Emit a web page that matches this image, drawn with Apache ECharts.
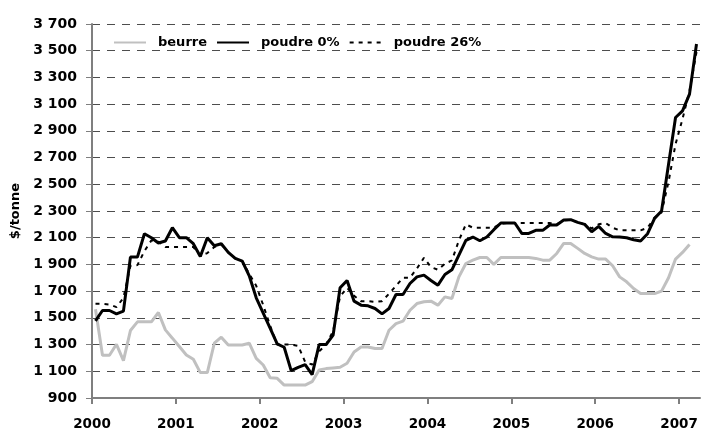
<!DOCTYPE html>
<html>
<head>
<meta charset="utf-8">
<script src="https://cdn.jsdelivr.net/npm/echarts@6/dist/echarts.min.js"></script>
<style>
  html, body { margin: 0; padding: 0; background: #fff; }
  #main { width: 703px; height: 431px; }
</style>
</head>
<body>
<div id="main"></div>
<script>
// monthly prices, $/tonne, from Jan 2000
var years = ["2000", "2001", "2002", "2003", "2004", "2005", "2006", "2007"];

var beurre = [
  1565, 1220, 1220, 1302, 1180, 1405, 1470, 1470, 1470, 1540, 1410, 1348,
  1285, 1222, 1190, 1090, 1090, 1310, 1355, 1297, 1297, 1297, 1310, 1197,
  1147, 1052, 1047, 997, 997, 997, 997, 1022, 1110, 1120, 1125, 1130,
  1160, 1245, 1282, 1282, 1270, 1270, 1407, 1457, 1475, 1557, 1607, 1620,
  1625, 1595, 1657, 1645, 1807, 1907, 1932, 1952, 1952, 1900, 1952, 1952,
  1952, 1952, 1952, 1945, 1932, 1932, 1982, 2057, 2057, 2020, 1982, 1957,
  1940, 1940, 1890, 1807, 1770, 1720, 1682, 1682, 1682, 1700, 1800, 1940,
  1990, 2050
];

var poudre0 = [
  1478, 1555, 1555, 1530, 1550, 1955, 1955, 2130, 2100, 2060, 2075, 2175,
  2100, 2100, 2055, 1960, 2100, 2040, 2055, 1990, 1945, 1925, 1815, 1650,
  1535, 1422, 1305, 1280, 1105, 1130, 1150, 1075, 1300, 1300, 1370, 1725,
  1780, 1625, 1595, 1590, 1570, 1530, 1570, 1675, 1675, 1757, 1807, 1820,
  1780, 1745, 1825, 1860, 1970, 2080, 2105, 2077, 2105, 2160, 2210, 2210,
  2210, 2132, 2132, 2155, 2155, 2195, 2195, 2232, 2235, 2215, 2200, 2145,
  2185, 2132, 2107, 2105, 2100, 2085, 2075, 2130, 2245, 2300, 2650, 3000,
  3050, 3175, 3550
];

var poudre26 = [
  1605, 1605, 1600, 1580, 1650, 1890, 1895, 2000, 2080, 2070, 2030, 2030,
  2030, 2030, 2030, 1965, 1985, 2030, 2050, 1990, 1945, 1925, 1830, 1740,
  1595, 1440, 1300, 1300, 1300, 1290, 1170, 1150, 1250, 1300, 1400, 1660,
  1725, 1665, 1625, 1625, 1620, 1625, 1680, 1740, 1800, 1800, 1870, 1950,
  1880, 1860, 1905, 1930, 2080, 2200, 2175, 2175, 2175, 2175, 2205, 2210,
  2210, 2210, 2210, 2210, 2210, 2210, 2200, 2230, 2235, 2215, 2200, 2170,
  2200, 2210, 2175, 2155, 2155, 2155, 2155, 2175, 2250, 2290, 2520, 2800,
  2990, 3200, 3490
];

// each value is plotted in the middle of its month
function byMonth(arr) {
  return arr.map(function (v, i) { return [i + 0.5, v]; });
}

var yearTicks = years.map(function (y, i) { return i * 12; });
var boldFont = { fontFamily: "DejaVu Sans", fontWeight: "bold", color: "#000" };

var chart = echarts.init(document.getElementById("main"));

var option = {
  animation: false,
  backgroundColor: "#fff",
  grid: { left: 92, right: 3, top: 24, bottom: 31 },
  legend: {
    left: 113,
    top: 36,
    padding: 0,
    itemWidth: 32,
    itemHeight: 14,
    itemGap: 9,
    itemStyle: { opacity: 0 },
    textStyle: Object.assign({ fontSize: 13, padding: [0, 0, 0, 7] }, boldFont),
    data: ["beurre", "poudre 0%", "poudre 26%"]
  },
  xAxis: {
    type: "value",
    min: 0,
    max: 87,
    interval: 12,
    axisLine: { lineStyle: { color: "#7f7f7f", width: 2 } },
    axisTick: { show: true, length: 6, customValues: yearTicks, lineStyle: { color: "#7f7f7f", width: 2 } },
    axisLabel: Object.assign({
      fontSize: 13.5,
      margin: 19,
      customValues: yearTicks,
      formatter: function (v) { return years[Math.round(v / 12)]; }
    }, boldFont),
    splitLine: { show: false }
  },
  yAxis: {
    type: "value",
    min: 900,
    max: 3700,
    interval: 200,
    name: "$/tonne",
    nameLocation: "middle",
    nameGap: 66,
    nameTextStyle: Object.assign({ fontSize: 13 }, boldFont),
    axisLine: { show: true, lineStyle: { color: "#7f7f7f", width: 2 } },
    axisTick: { show: true, length: 6, lineStyle: { color: "#7f7f7f", width: 1 } },
    axisLabel: Object.assign({
      fontSize: 14,
      margin: 15,
      formatter: function (v) {
        var s = String(v);
        return s.length > 3 ? s.slice(0, s.length - 3) + " " + s.slice(-3) : s;
      }
    }, boldFont),
    splitLine: { show: true, lineStyle: { color: "#4d4d4d", width: 1, type: [8, 7] } }
  },
  series: [
    {
      name: "beurre",
      type: "line",
      symbol: "none",
      itemStyle: { color: "#c0c0c0" },
      lineStyle: { color: "#c0c0c0", width: 3 },
      data: byMonth(beurre)
    },
    {
      name: "poudre 0%",
      type: "line",
      symbol: "none",
      itemStyle: { color: "#000" },
      lineStyle: { color: "#000", width: 3 },
      data: byMonth(poudre0)
    },
    {
      name: "poudre 26%",
      type: "line",
      symbol: "none",
      itemStyle: { color: "#000" },
      lineStyle: { color: "#000", width: 2, type: [4, 5] },
      data: byMonth(poudre26)
    }
  ]
};

chart.setOption(option);
</script>
</body>
</html>
